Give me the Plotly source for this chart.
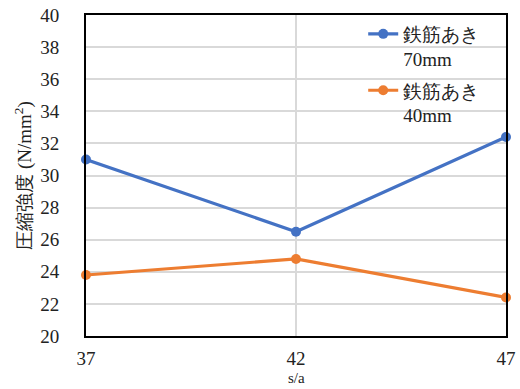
import plotly.graph_objects as go

# s/a ratio on the x axis, compressive strength on the y axis
sa_ratio = [37, 42, 47]
strength_70mm = [31.0, 26.5, 32.4]
strength_40mm = [23.8, 24.8, 22.4]
series_names = ["鉄筋あき<br>70mm", "鉄筋あき<br>40mm"]
y_ticks = list(range(20, 41, 2))

SERIF = "Liberation Serif"
BLUE = "#4472C4"
ORANGE = "#ED7D31"
TEXT = "#222222"

fig = go.Figure()
for i, (name, vals, color) in enumerate([(series_names[0], strength_70mm, BLUE),
                                         (series_names[1], strength_40mm, ORANGE)]):
    fig.add_trace(go.Scatter(
        x=sa_ratio, y=vals, name=name, mode="lines+markers",
        legendgroup=f"g{i}",
        line=dict(color=color, width=3.2),
        marker=dict(color=color, size=10),
        cliponaxis=False,
    ))

# x-axis title sits just under the tick labels
fig.add_annotation(
    text="s/a", xref="paper", yref="paper", x=0.5, y=0,
    xanchor="center", yanchor="middle", yshift=-42, showarrow=False,
    font=dict(family=SERIF, size=15, color=TEXT),
)

fig.update_layout(
    width=520, height=389,
    margin=dict(l=86, r=14, t=15, b=53, autoexpand=False),
    paper_bgcolor="white", plot_bgcolor="white",
    font=dict(family=SERIF, size=19, color=TEXT),
    legend=dict(
        x=0.66, y=1.0, xanchor="left", yanchor="top",
        bgcolor="rgba(0,0,0,0)", font=dict(family=SERIF, size=19, color=TEXT),
        valign="top", tracegroupgap=4, itemwidth=30,
    ),
    xaxis=dict(
        range=[37, 47], tickvals=sa_ratio, ticktext=[str(v) for v in sa_ratio],
        tickfont=dict(family=SERIF, size=19, color=TEXT),
        showgrid=True, gridcolor="#D9D9D9", gridwidth=1.5,
        showline=True, linecolor="black", linewidth=2, mirror=True,
        ticks="outside", ticklen=4, tickcolor="rgba(0,0,0,0)",
        zeroline=False, automargin=False,
    ),
    yaxis=dict(
        range=[20, 40], tickvals=y_ticks,
        tickfont=dict(family=SERIF, size=19, color=TEXT),
        showgrid=True, gridcolor="#D9D9D9", gridwidth=1.5,
        showline=True, linecolor="black", linewidth=2, mirror=True,
        ticks="outside", ticklen=21, tickcolor="rgba(0,0,0,0)",
        zeroline=False, automargin=False,
        title=dict(text="圧縮強度 (N/mm<sup>2</sup>)",
                   font=dict(family=SERIF, size=19, color=TEXT), standoff=4),
    ),
)

fig.write_html("out.html")
